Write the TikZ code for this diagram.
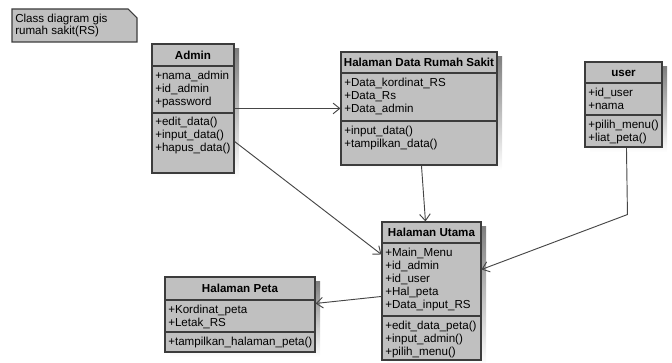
\documentclass[tikz,border=0pt]{standalone}
\usepackage{fontspec}
\setmainfont{Liberation Sans}
\usetikzlibrary{arrows.meta,fit,calc}

\definecolor{classfill}{RGB}{192,192,192}
\definecolor{classline}{RGB}{60,60,60}
\definecolor{shade}{RGB}{230,230,230}
\definecolor{wire}{RGB}{70,70,70}

\tikzset{
  classrect/.style={draw=classline, fill=classfill, line width=0.8pt, inner sep=0pt},
  rowtxt/.style={font=\fontsize{8.7}{10}\selectfont, inner sep=0pt, text=black},
  notetxt/.style={font=\fontsize{8.7}{9}\selectfont, inner sep=0pt, text=black, align=left},
  titletxt/.style={font=\fontsize{8.7}{10}\selectfont\bfseries, inner sep=0pt, text=black},
  assoc/.style={draw=wire, line width=0.7pt, -{Straight Barb[length=5pt,width=8pt]}},
}

% class box: name, x1, y1, x2, y2, header line y, section line y, title
\newcommand\umlclass[8]{%
  \fill[shade] (#2+5,#3+5) rectangle (#4+5,#5+5);
  \node[classrect, fit={(#2,#3) (#4,#5)}] (#1) {};
  \draw[classline, line width=0.8pt] (#2,#6) -- (#4,#6) (#2,#7) -- (#4,#7);
  \node[titletxt, anchor=base] (#1-title) at ({(#2+#4)/2}, {(#3+#6)/2+4.5}) {#8};
}
% rows of a compartment: name prefix, x, first baseline y, list of rows
\newcommand\umlrows[4]{%
  \foreach \t [count=\i] in {#4} {%
    \node[rowtxt, anchor=base west] (#1-\i) at (#2, {#3+13*(\i-1)}) {\t};
  }%
}

\begin{document}
\begin{tikzpicture}[x=0.75pt,y=-0.75pt]
  \useasboundingbox (0,0) rectangle (672,363);

  % note with folded corner
  \fill[classfill, draw=classline, line width=0.8pt]
    (12,9) -- (128,9) -- (137,18) -- (137,42) -- (12,42) -- cycle;
  \node[notetxt, anchor=north west] (note) at (15,14)
    {Class diagram gis\\rumah sakit(RS)};

  % Admin
  \umlclass{admin}{152}{44}{234}{173}{66}{113}{Admin}
  \umlrows{admin-a}{155}{80}{+nama\_admin,+id\_admin,+password}
  \umlrows{admin-m}{155}{126}{+edit\_data(),+input\_data(),+hapus\_data()}

  % Halaman Data Rumah Sakit
  \umlclass{hdrs}{341}{52}{497}{165}{73}{121}{Halaman Data Rumah Sakit}
  \umlrows{hdrs-a}{344}{87}{+Data\_kordinat\_RS,+Data\_Rs,+Data\_admin}
  \umlrows{hdrs-m}{344}{135}{+input\_data(),+tampilkan\_data()}

  % user
  \umlclass{user}{585}{62}{662}{147}{83}{115}{user}
  \umlrows{user-a}{588}{97}{+id\_user,+nama}
  \umlrows{user-m}{588}{129}{+pilih\_menu(),+liat\_peta()}

  % Halaman Utama
  \umlclass{utama}{382}{222}{481}{360}{243}{316}{Halaman Utama}
  \umlrows{utama-a}{385}{257}{+Main\_Menu,+id\_admin,+id\_user,+Hal\_peta,+Data\_input\_RS}
  \umlrows{utama-m}{385}{330}{+edit\_data\_peta(),+input\_admin(),+pilih\_menu()}

  % Halaman Peta
  \umlclass{peta}{165}{277}{315}{352}{300}{332}{Halaman Peta}
  \umlrows{peta-a}{168}{314}{+Kordinat\_peta,+Letak\_RS}
  \umlrows{peta-m}{168}{346}{+tampilkan\_halaman\_peta()}

  % associations
  \draw[assoc] ($(admin.north east)+(0,65)$) -- ($(hdrs.north west)+(0,57)$);
  \draw[assoc] ($(admin.north east)+(0,98)$) -- ($(utama.north west)+(0,33)$);
  \draw[assoc] ($(hdrs.south west)+(81,0)$) -- ($(utama.north west)+(44,0)$);
  \coordinate (ubend) at ($(user.south west)+(43,67)$);
  \draw[assoc] ($(user.south west)+(42,0)$) -- (ubend) -- ($(utama.north east)+(0,48)$);
  \draw[assoc] ($(utama.north west)+(0,75)$) -- ($(peta.north east)+(0,27)$);
\end{tikzpicture}
\end{document}
